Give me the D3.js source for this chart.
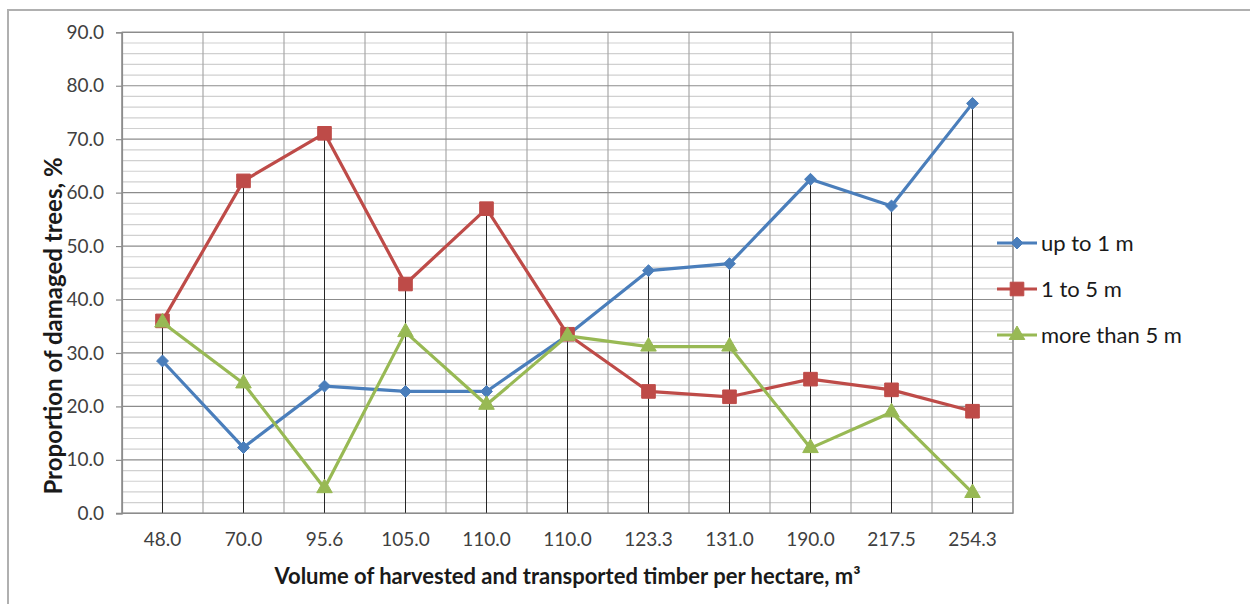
<!DOCTYPE html>
<html>
<head>
<meta charset="utf-8">
<script src="https://cdn.jsdelivr.net/npm/d3@7"></script>
<style>
  html, body { margin: 0; padding: 0; background: #fff; }
  svg { display: block; font-family: Lato, "Open Sans", sans-serif; }
</style>
</head>
<body>
<svg id="chart" width="1250" height="604"></svg>
<script>
// Harvested volume per hectare (category labels, in plot order)
const categories = ["48.0", "70.0", "95.6", "105.0", "110.0", "110.0", "123.3", "131.0", "190.0", "217.5", "254.3"];

// Proportion of damaged trees, % — by damage length
const upTo1m     = [28.5, 12.3, 23.8, 22.8, 22.8, 33.3, 45.4, 46.7, 62.5, 57.5, 76.7];
const from1to5m  = [36.0, 62.2, 71.1, 42.9, 57.0, 33.5, 22.8, 21.8, 25.1, 23.1, 19.1];
const moreThan5m = [35.7, 24.3, 4.7, 33.9, 20.3, 33.2, 31.2, 31.2, 12.2, 18.9, 3.8];

const seriesNames = ["up to 1 m", "1 to 5 m", "more than 5 m"];
const yTicks = [0, 10, 20, 30, 40, 50, 60, 70, 80, 90];

const series = [
  { name: seriesNames[0], values: upTo1m,     color: "#4a7ebb", symbol: d3.symbolDiamond2, size: 90 },
  { name: seriesNames[1], values: from1to5m,  color: "#be4b48", symbol: d3.symbolSquare,   size: 185 },
  { name: seriesNames[2], values: moreThan5m, color: "#98b954", symbol: d3.symbolTriangle, size: 105 }
];

const svg = d3.select("#chart");

// Outer chart frame
svg.append("rect")
  .attr("x", 8).attr("y", 10).attr("width", 1260).attr("height", 620)
  .attr("fill", "none").attr("stroke", "#b0b0b0").attr("stroke-width", 2);

const plot = { left: 122, right: 1013, top: 32.3, bottom: 513.3 };

const x = d3.scaleBand()
  .domain(d3.range(categories.length))
  .range([plot.left, plot.right])
  .paddingInner(0).paddingOuter(0);
const cx = i => x(i) + x.bandwidth() / 2;

const y = d3.scaleLinear().domain([0, 90]).range([plot.bottom, plot.top]);

const g = svg.append("g");

// Minor horizontal gridlines every 2 units
g.append("g").selectAll("line")
  .data(d3.range(0, 91, 2).filter(v => v % 10 !== 0))
  .join("line")
  .attr("x1", plot.left).attr("x2", plot.right)
  .attr("y1", d => y(d)).attr("y2", d => y(d))
  .attr("stroke", "#d0d0d0").attr("stroke-width", 1.2);

// Vertical gridlines at category boundaries
g.append("g").selectAll("line")
  .data(d3.range(categories.length + 1))
  .join("line")
  .attr("x1", i => plot.left + i * x.bandwidth())
  .attr("x2", i => plot.left + i * x.bandwidth())
  .attr("y1", plot.top).attr("y2", plot.bottom)
  .attr("stroke", "#a8a8a8").attr("stroke-width", 1.2);

// Major horizontal gridlines
g.append("g").selectAll("line")
  .data(yTicks)
  .join("line")
  .attr("x1", plot.left).attr("x2", plot.right)
  .attr("y1", d => y(d)).attr("y2", d => y(d))
  .attr("stroke", "#8c8c8c").attr("stroke-width", 1.2);

// Plot area frame
g.append("rect")
  .attr("x", plot.left).attr("y", plot.top)
  .attr("width", plot.right - plot.left).attr("height", plot.bottom - plot.top)
  .attr("fill", "none").attr("stroke", "#8c8c8c").attr("stroke-width", 1.2);

// Drop lines from the highest point of each category to the axis
g.append("g").selectAll("line")
  .data(d3.range(categories.length))
  .join("line")
  .attr("x1", cx).attr("x2", cx)
  .attr("y1", i => y(d3.max(series, s => s.values[i])))
  .attr("y2", plot.bottom)
  .attr("stroke", "#262626").attr("stroke-width", 1);

// Y axis
const yAxis = d3.axisLeft(y).tickValues(yTicks).tickFormat(d3.format(".1f")).tickSize(6).tickPadding(12);
const ya = svg.append("g").attr("transform", `translate(${plot.left},0)`).call(yAxis);
ya.select(".domain").attr("stroke", "#8c8c8c").attr("stroke-width", 1.2);
ya.selectAll(".tick line").attr("stroke", "#8c8c8c").attr("stroke-width", 1.2);
ya.selectAll(".tick text").attr("fill", "#404040").style("font-size", "19px").attr("font-family", "Lato, sans-serif");

// X axis
const xAxis = d3.axisBottom(x).tickFormat(i => categories[i]).tickSize(0).tickPadding(19);
const xa = svg.append("g").attr("transform", `translate(0,${plot.bottom})`).call(xAxis);
xa.select(".domain").remove();
xa.append("line").attr("x1", plot.left - 6).attr("x2", plot.right).attr("y1", 0).attr("y2", 0)
  .attr("stroke", "#8c8c8c").attr("stroke-width", 1.2);
xa.selectAll(".tick text").attr("fill", "#404040").style("font-size", "19px").attr("font-family", "Lato, sans-serif");

// Series lines and markers
const line = d3.line().x((d, i) => cx(i)).y(d => y(d));
series.forEach(s => {
  g.append("path")
    .datum(s.values)
    .attr("d", line)
    .attr("fill", "none")
    .attr("stroke", s.color)
    .attr("stroke-width", 3.2)
    .attr("stroke-linejoin", "round");
  g.append("g").selectAll("path")
    .data(s.values)
    .join("path")
    .attr("transform", (d, i) => `translate(${cx(i)},${y(d)})`)
    .attr("d", d3.symbol().type(s.symbol).size(s.size))
    .attr("fill", s.color)
    .attr("stroke", s.color)
    .attr("stroke-width", 1);
});

// Axis titles
svg.append("text")
  .attr("x", (plot.left + plot.right) / 2).attr("y", 584)
  .attr("text-anchor", "middle")
  .style("font-size", "22px").style("font-weight", "bold").attr("fill", "#1a1a1a")
  .text("Volume of harvested and transported timber per hectare, m³");

svg.append("text")
  .attr("transform", "translate(62,326) rotate(-90)")
  .attr("text-anchor", "middle")
  .style("font-size", "24px").style("font-weight", "bold").attr("fill", "#1a1a1a")
  .text("Proportion of damaged trees, %");

// Legend
const legend = svg.append("g");
series.forEach((s, k) => {
  const ly = 243 + k * 46;
  legend.append("line")
    .attr("x1", 997).attr("x2", 1037).attr("y1", ly).attr("y2", ly)
    .attr("stroke", s.color).attr("stroke-width", 3.2);
  legend.append("path")
    .attr("transform", `translate(1017,${ly})`)
    .attr("d", d3.symbol().type(s.symbol).size(s.size))
    .attr("fill", s.color).attr("stroke", s.color);
  legend.append("text")
    .attr("x", 1041).attr("y", ly).attr("dy", "0.36em")
    .style("font-size", "22px").attr("fill", "#1a1a1a")
    .text(s.name);
});
</script>
</body>
</html>
